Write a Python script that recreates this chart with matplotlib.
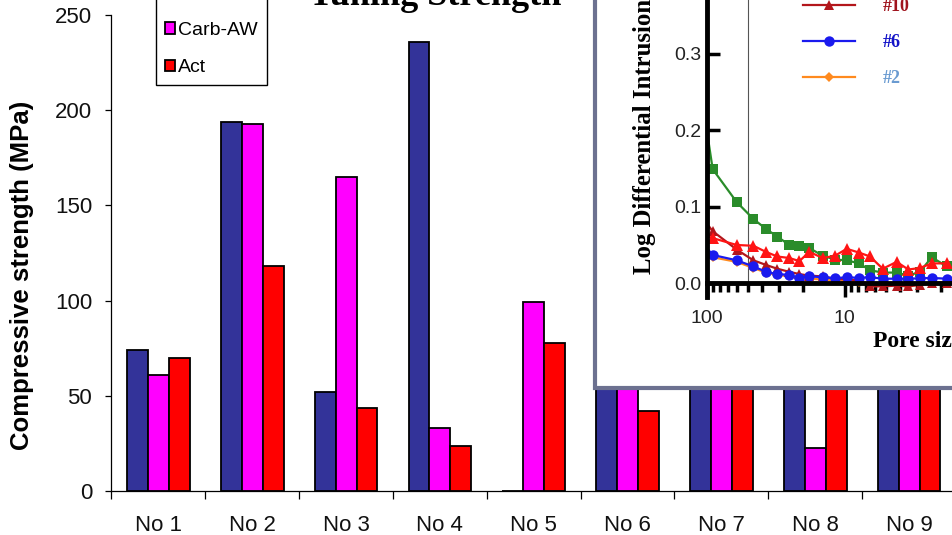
import matplotlib
matplotlib.use("Agg")
import matplotlib.pyplot as plt
import numpy as np
from matplotlib.patches import Rectangle
from matplotlib.ticker import FixedLocator, NullFormatter, FormatStrFormatter, FixedFormatter

# ---- compressive strength data (MPa) ----
samples = ["No 1", "No 2", "No 3", "No 4", "No 5", "No 6", "No 7", "No 8", "No 9"]
series_names = ["Carb", "Carb-AW", "Act"]
carb = [74, 194, 52, 236, 0, 120, 150, 165, 140]
carb_aw = [61, 193, 165, 33, 99.5, 110, 140, 22.5, 130]
act = [70, 118, 43.5, 23.5, 77.5, 42, 130, 120, 125]
y_ticks = [0, 50, 100, 150, 200, 250]

# ---- pore size distribution (log differential intrusion) ----
pore_size = [110, 90.5, 60.6, 45.9, 37.2, 30.8, 25.2, 21.3, 18.05, 14.4, 11.75,
             9.67, 7.84, 6.56, 5.3, 4.2, 3.46, 2.85, 2.34, 1.82]
ldi_green = [0.250, 0.149, 0.106, 0.084, 0.071, 0.061, 0.050, 0.049, 0.046, 0.036,
             0.031, 0.030, 0.026, 0.017, 0.014, 0.014, 0.010, 0.015, 0.034, 0.022]
ldi_red = [0.065, 0.059, 0.050, 0.049, 0.041, 0.035, 0.033, 0.029, 0.041, 0.033,
           0.036, 0.045, 0.040, 0.035, 0.019, 0.028, 0.018, 0.020, 0.026, 0.026]
ldi_10 = [0.088, 0.068, 0.044, 0.030, 0.024, 0.019, 0.015, 0.012, 0.010, 0.009,
          0.006, 0.005, 0.004, -0.004, -0.004, -0.003, -0.004, -0.002, 0.000, 0.001]
ldi_6 = [0.055, 0.037, 0.030, 0.022, 0.015, 0.012, 0.011, 0.007, 0.009, 0.008,
         0.0065, 0.008, 0.007, 0.008, 0.006, 0.006, 0.006, 0.0065, 0.007, 0.006]
ldi_2 = [0.045, 0.034, 0.028, 0.020, 0.014, 0.011, 0.009, 0.007, 0.006, 0.005,
         0.004, 0.003, 0.002, 0.000, -0.002, -0.001, -0.004, -0.001, 0.001, 0.002]
inset_yticks = [0.0, 0.1, 0.2, 0.3]
inset_xticks = [100, 10]
inset_xlabels = ["100", "10"]

W, H, DPI = 953, 535, 100
fig = plt.figure(figsize=(W / DPI, H / DPI), dpi=DPI)


def fx(px):
    return px / W


def fy(py):
    return 1 - py / H


# ---------------- main bar chart ----------------
ax = fig.add_axes([fx(111.5), fy(491), (956 - 111.5) / W, (491 - 15) / H])
x = np.arange(len(samples))
bw = 0.223
colors = ["#333399", "#FF00FF", "#FF0000"]
for k, (name, vals) in enumerate(zip(series_names, [carb, carb_aw, act])):
    ax.bar(x + (k - 1) * bw, vals, width=bw, color=colors[k], edgecolor="black",
           linewidth=1.3, label=name, zorder=2)

ax.set_xlim(-0.5, len(samples) - 0.5)
ax.set_ylim(0, 250)
for s in ["top", "right"]:
    ax.spines[s].set_visible(False)
for s in ["left", "bottom"]:
    ax.spines[s].set_linewidth(0.9)

ax.set_yticks(y_ticks)
ax.tick_params(axis="y", direction="out", length=4.5, width=0.9, pad=9.5,
               labelsize=16, labelcolor="#111111")
ax.set_xticks(x)
ax.set_xticklabels(samples)
ax.xaxis.set_minor_locator(FixedLocator(np.arange(-0.5, len(samples), 1.0)))
ax.tick_params(axis="x", which="major", length=0, pad=17, labelsize=16,
               labelcolor="#111111")
ax.tick_params(axis="x", which="minor", direction="out", length=5.5, width=0.9)
for lab in ax.get_xticklabels() + ax.get_yticklabels():
    lab.set_family("Liberation Sans")

leg = ax.legend(loc="lower left", bbox_to_anchor=(fx(156), fy(85)),
                bbox_transform=fig.transFigure, borderaxespad=0,
                handlelength=0.55, handleheight=0.55, handletextpad=0.15,
                labelspacing=1.05, borderpad=0.45, fancybox=False,
                edgecolor="black", framealpha=1,
                prop=dict(family="Liberation Sans", size=14))
leg.get_frame().set_linewidth(1.0)

fig.text(fx(22), fy(275), "Compressive strength (MPa)", rotation=90,
         ha="center", va="center", fontsize=18.5, weight="bold",
         family="Liberation Sans")
fig.text(fx(435), fy(5), "Tuning Strength", ha="center", va="baseline",
         fontsize=26, weight="bold", family="Liberation Serif")

# ---------------- inset: pore size distribution ----------------
frame = Rectangle((fx(594.7), fy(388.3)), (W + 30 - 594.7) / W, (388.3 + 30) / H,
                  transform=fig.transFigure, facecolor="white",
                  edgecolor="#6C7190", linewidth=3, zorder=2)
fig.add_artist(frame)

y_lo, y_hi = -0.018, 0.40
ypx0 = 283.3
ypx_per = 766.0
ax_bot = ypx0 - y_lo * ypx_per
ax_top = ypx0 - y_hi * ypx_per
iax = fig.add_axes([fx(706.7), fy(ax_bot), 276 / W, (ax_bot - ax_top) / H])
iax.set_zorder(3)
iax.patch.set_alpha(0)
iax.set_xscale("log")
iax.set_xlim(100, 1)
iax.set_ylim(y_lo, y_hi)

iax.vlines(50, 0, y_hi, color="#555555", linewidth=0.8, zorder=1)

line_kw = dict(linewidth=1.6, markeredgewidth=0)
iax.plot(pore_size, ldi_green, color="#2A8C2A", marker="s", markersize=7.5, **line_kw)
l2, = iax.plot(pore_size, ldi_2, color="#FF8A1E", marker="D", markersize=5, **line_kw)
l10, = iax.plot(pore_size, ldi_10, color="#B3161B", marker="^", markersize=7.5, **line_kw)
l6, = iax.plot(pore_size, ldi_6, color="#1A1AEE", marker="o", markersize=7.5, **line_kw)
iax.plot(pore_size, ldi_red, color="#FF1414", marker="^", markersize=8, **line_kw)

for s in ["top", "right"]:
    iax.spines[s].set_visible(False)
iax.spines["left"].set_linewidth(3.5)
iax.spines["bottom"].set_linewidth(3.5)
iax.spines["bottom"].set_position(("data", 0))

iax.yaxis.set_major_locator(FixedLocator(inset_yticks))
iax.yaxis.set_major_formatter(FormatStrFormatter("%.1f"))
iax.tick_params(axis="y", direction="in", length=9, width=2.5, pad=4,
                labelsize=14, labelcolor="#222222")
iax.xaxis.set_major_locator(FixedLocator(inset_xticks))
iax.xaxis.set_major_formatter(FixedFormatter(inset_xlabels))
iax.xaxis.set_minor_locator(FixedLocator(
    [v for v in np.concatenate([np.arange(20, 100, 10), np.arange(2, 10, 1)])]))
iax.xaxis.set_minor_formatter(NullFormatter())
iax.tick_params(axis="x", which="major", direction="out", length=10, width=2.5,
                pad=9, labelsize=14, labelcolor="#222222")
iax.tick_params(axis="x", which="minor", direction="out", length=6.5, width=2.5)
for lab in iax.get_xticklabels() + iax.get_yticklabels():
    lab.set_family("Liberation Sans")

fig.text(fx(645), fy(274), "Log Differential Intrusion", rotation=90,
         rotation_mode="anchor", ha="left", va="center", fontsize=17.8,
         weight="bold", family="Liberation Serif", zorder=4)
fig.text(fx(873), fy(341), "Pore size (nm)", ha="left", va="center",
         fontsize=17, weight="bold", family="Liberation Serif", zorder=4)

ileg = fig.legend([l10, l6, l2], ["#10", "#6", "#2"], loc="center left",
                  bbox_to_anchor=(fx(803), fy(42.5)), bbox_transform=fig.transFigure,
                  frameon=False, borderpad=0, borderaxespad=0,
                  handlelength=2.88, handletextpad=1.55, labelspacing=1.05,
                  prop=dict(family="Liberation Serif", weight="bold", size=13))
for t, c in zip(ileg.get_texts(), ["#A0141E", "#1414C8", "#6A9BD1"]):
    t.set_color(c)

fig.savefig("out.png", dpi=DPI)
